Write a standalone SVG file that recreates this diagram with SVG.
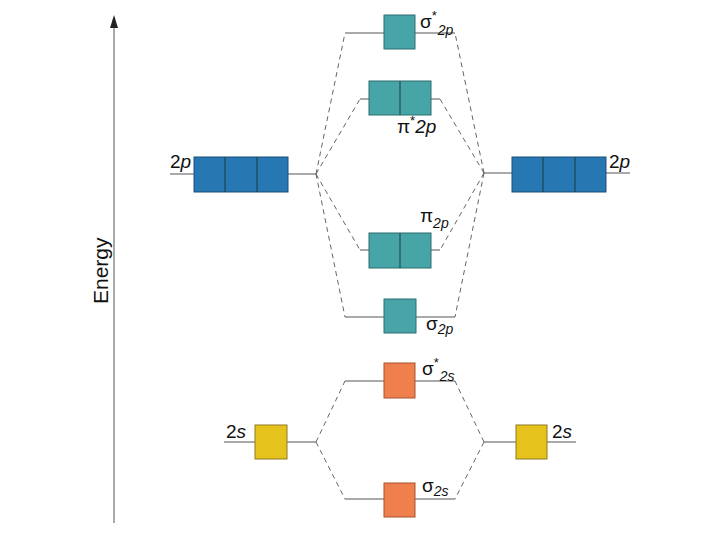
<svg xmlns="http://www.w3.org/2000/svg" width="720" height="540" viewBox="0 0 720 540">
<style>
.lvl{stroke:#555;stroke-width:1;fill:none}
.dash{stroke:#666;stroke-width:1;fill:none;stroke-dasharray:5,4}
.teal{fill:#47a5a8;stroke:#2c6f70;stroke-width:1}
.blue{fill:#2777b3;stroke:#1d4f78;stroke-width:1}
.orange{fill:#ef7f4c;stroke:#a7532d;stroke-width:1}
.yellow{fill:#e6c31c;stroke:#8f7a20;stroke-width:1}
.div{stroke:#1b3f3f;stroke-width:1}
text{font-family:"Liberation Sans",Arial,sans-serif;fill:#111}
.lab{font-size:19px}
.sym{font-size:19px}
.sub{font-size:14px;font-style:italic}
</style>
<rect width="720" height="540" fill="#fff"/>
<g id="axis">
<line x1="114" y1="523" x2="114" y2="18" stroke="#555" stroke-width="1"/>
<path d="M110,28 L114,15 L118,28 Z" fill="#222"/>
<text x="0" y="0" transform="translate(108,304) rotate(-90)" font-size="21">Energy</text>
</g>
<g id="connectors">
<path class="dash" d="M316,174 L345,33 M316,174 L360,99 M316,174 L360,250 M316,174 L345,317"/>
<path class="dash" d="M484,173 L455,33 M484,173 L440,99 M484,173 L440,250 M484,173 L455,317"/>
<path class="dash" d="M316,442 L345,381 M316,442 L345,499"/>
<path class="dash" d="M484,442 L455,381 M484,442 L455,499"/>
</g>
<g id="left-2p">
<line class="lvl" x1="170" y1="174" x2="316" y2="174"/>
<rect class="blue" x="194" y="157" width="94" height="35"/>
<line class="div" x1="225" y1="157" x2="225" y2="192"/>
<line class="div" x1="257" y1="157" x2="257" y2="192"/>
<text class="lab" x="170" y="168"><tspan>2</tspan><tspan font-style="italic">p</tspan></text>
</g>
<g id="right-2p">
<line class="lvl" x1="484" y1="173" x2="630" y2="173"/>
<rect class="blue" x="512" y="157" width="94" height="35"/>
<line class="div" x1="543" y1="157" x2="543" y2="192"/>
<line class="div" x1="575" y1="157" x2="575" y2="192"/>
<text class="lab" x="609" y="168"><tspan>2</tspan><tspan font-style="italic">p</tspan></text>
</g>
<g id="sigma-star-2p">
<line class="lvl" x1="345" y1="33" x2="455" y2="33"/>
<rect class="teal" x="384" y="15" width="31" height="34"/>
<text x="420" y="28"><tspan class="sym">σ</tspan><tspan font-size="13" dy="-8">*</tspan><tspan class="sub" dx="1" dy="15">2p</tspan></text>
</g>
<g id="pi-star-2p">
<line class="lvl" x1="360" y1="99" x2="440" y2="99"/>
<rect class="teal" x="369" y="81" width="62" height="34"/>
<line class="div" x1="400" y1="81" x2="400" y2="115"/>
<text x="397" y="133"><tspan class="sym">π</tspan><tspan font-size="13" dy="-8">*</tspan><tspan font-size="19" font-style="italic" dy="8">2p</tspan></text>
</g>
<g id="pi-2p">
<line class="lvl" x1="360" y1="250" x2="440" y2="250"/>
<rect class="teal" x="369" y="233" width="62" height="35"/>
<line class="div" x1="400" y1="233" x2="400" y2="268"/>
<text x="420" y="222"><tspan class="sym">π</tspan><tspan class="sub" dy="6">2p</tspan></text>
</g>
<g id="sigma-2p">
<line class="lvl" x1="345" y1="317" x2="455" y2="317"/>
<rect class="teal" x="384" y="299" width="32" height="34"/>
<text x="426" y="330"><tspan class="sym">σ</tspan><tspan class="sub" dy="4">2p</tspan></text>
</g>
<g id="left-2s">
<line class="lvl" x1="224" y1="442" x2="316" y2="442"/>
<rect class="yellow" x="255" y="425" width="32" height="34"/>
<text class="lab" x="226" y="438"><tspan>2</tspan><tspan font-style="italic">s</tspan></text>
</g>
<g id="right-2s">
<line class="lvl" x1="484" y1="442" x2="576" y2="442"/>
<rect class="yellow" x="516" y="425" width="31" height="34"/>
<text class="lab" x="552" y="438"><tspan>2</tspan><tspan font-style="italic">s</tspan></text>
</g>
<g id="sigma-star-2s">
<line class="lvl" x1="345" y1="381" x2="455" y2="381"/>
<rect class="orange" x="384" y="363" width="31" height="35"/>
<text x="422" y="375"><tspan class="sym">σ</tspan><tspan font-size="13" dy="-8">*</tspan><tspan class="sub" dx="1" dy="14">2s</tspan></text>
</g>
<g id="sigma-2s">
<line class="lvl" x1="345" y1="499" x2="455" y2="499"/>
<rect class="orange" x="384" y="483" width="31" height="34"/>
<text x="422" y="492"><tspan class="sym">σ</tspan><tspan class="sub" dy="4">2s</tspan></text>
</g>
</svg>
